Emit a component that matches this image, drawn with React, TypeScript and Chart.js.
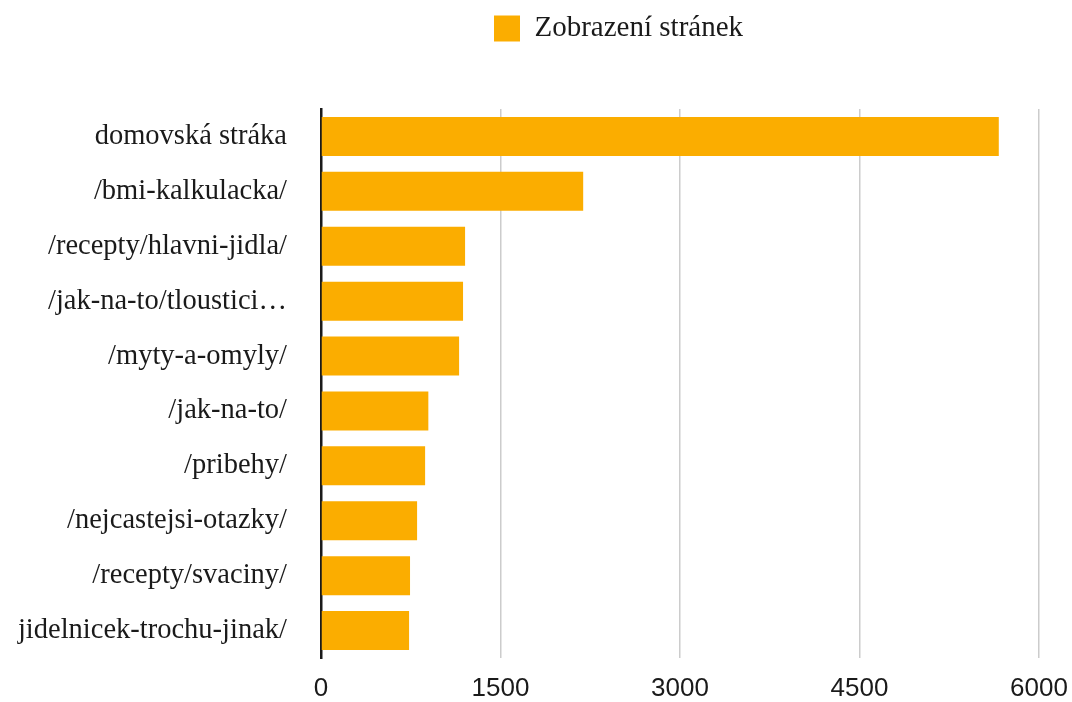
import React, { useEffect, useRef } from "react";
import { Chart, registerables } from "chart.js";

Chart.register(...registerables);

const categories = [
  "domovská stráka",
  "/bmi-kalkulacka/",
  "/recepty/hlavni-jidla/",
  "/jak-na-to/tloustici…",
  "/myty-a-omyly/",
  "/jak-na-to/",
  "/pribehy/",
  "/nejcastejsi-otazky/",
  "/recepty/svaciny/",
  "jidelnicek-trochu-jinak/",
];

const pageViews = [5664, 2191, 1204, 1187, 1154, 897, 870, 803, 744, 736];

const seriesLabel = "Zobrazení stránek";
const xMin = 0;
const xMax = 6000;
const xStep = 1500;

const BAR_COLOR = "#fbad00";

const legendShift = {
  id: "legendShift",
  beforeDraw(chart: any) {
    const l = chart.legend;
    if (l) {
      const w = l.right - l.left;
      l.left = 480;
      l.right = l.left + w;
    }
  },
};

export default function App() {
  const ref = useRef<HTMLCanvasElement | null>(null);

  useEffect(() => {
    if (!ref.current) return;
    const chart = new Chart(ref.current, {
      type: "bar",
      data: {
        labels: categories,
        datasets: [
          {
            label: seriesLabel,
            data: pageViews,
            backgroundColor: BAR_COLOR,
            borderWidth: 0,
            categoryPercentage: 1,
            barPercentage: 0.71,
          },
        ],
      },
      options: {
        indexAxis: "y",
        animation: false,
        responsive: true,
        maintainAspectRatio: false,
        layout: { padding: { left: 0, right: 33, top: 0, bottom: 0 } },
        plugins: {
          tooltip: { enabled: false },
          legend: {
            display: true,
            position: "top",
            align: "start",
            labels: {
              boxWidth: 26,
              boxHeight: 26,
              padding: 14,
              color: "#1a1a1a",
              font: { family: "'Liberation Serif', 'Times New Roman', serif", size: 29 },
            },
          },
        },
        scales: {
          x: {
            type: "linear",
            position: "bottom",
            min: xMin,
            max: xMax,
            ticks: {
              stepSize: xStep,
              padding: 15,
              color: "#1a1a1a",
              font: { family: "'Liberation Sans', Arial, sans-serif", size: 26 },
              callback: (v: any) => String(v),
            },
            grid: { color: "#cccccc", lineWidth: 1.5, drawTicks: false },
            border: { display: false },
            afterFit: (s: any) => {
              s.height = 44;
              s.paddingLeft = 0;
              s.paddingRight = 0;
            },
          },
          xTop: {
            type: "linear",
            axis: "x",
            position: "top",
            display: true,
            grid: { display: false, drawTicks: false },
            border: { display: false },
            ticks: { display: false },
            afterFit: (s: any) => {
              s.height = 56;
              s.paddingLeft = 0;
              s.paddingRight = 0;
            },
          },
          y: {
            type: "category",
            ticks: {
              padding: 34,
              color: "#1a1a1a",
              font: { family: "'Liberation Serif', 'Times New Roman', serif", size: 28.5 },
            },
            grid: { display: false, drawTicks: false },
            border: { display: true, color: "#1a1a1a", width: 2.5 },
            afterFit: (s: any) => {
              s.width = 321;
              s.paddingTop = 0;
              s.paddingBottom = 0;
            },
          },
        },
      },
      plugins: [legendShift],
    });
    return () => chart.destroy();
  }, []);

  return (
    <div style={{ position: "fixed", left: 0, top: 0, width: 1072, height: 702, background: "#fff" }}>
      <canvas ref={ref} />
    </div>
  );
}
